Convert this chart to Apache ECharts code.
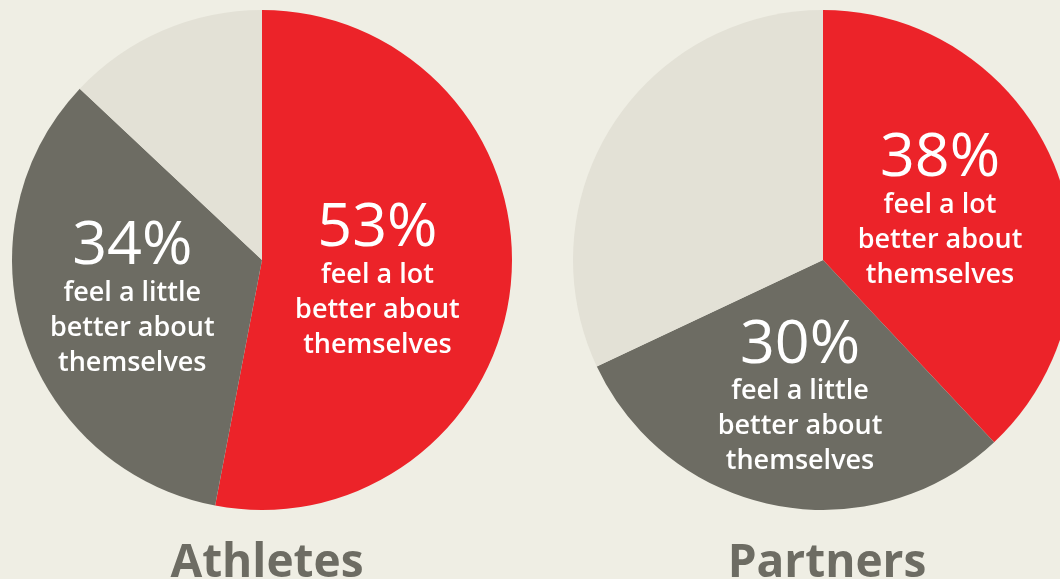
<!DOCTYPE html>
<html>
<head>
<meta charset="utf-8">
<script src="https://cdn.jsdelivr.net/npm/echarts@6/dist/echarts.min.js"></script>
<style>
html,body{margin:0;padding:0;background:#efeee4;}
#c{width:1060px;height:579px;}
</style>
</head>
<body>
<div id="c"></div>
<script>
// Data
const groups = ['Athletes', 'Partners'];
const categories = ['feel a lot better about themselves', 'feel a little better about themselves', 'other'];
const athletesValues = [53, 34, 13];
const partnersValues = [38, 30, 32];
const labelLines = {
  'feel a lot better about themselves': ['feel a lot', 'better about', 'themselves'],
  'feel a little better about themselves': ['feel a little', 'better about', 'themselves']
};

const colors = ['#ec2329', '#6d6c63', '#e3e1d6'];
const FONT = '"Open Sans", "Noto Sans", sans-serif';
// label nudges [series][dataIndex] = [dx, dy]
const nudges = [[[-12, 9], [-8, 0]], [[-2, -2], [1, 12]]];

function makeData(values) {
  return values.map((v, i) => ({
    name: categories[i],
    value: v,
    itemStyle: { color: colors[i] },
    label: { show: i < 2 }
  }));
}

const labelCfg = {
  show: true,
  position: 'inside',
  color: '#fff',
  formatter: p => {
    const lines = labelLines[p.name] || [];
    return '{a|' + p.value + '%}\n' + lines.map(l => '{b|' + l + '}').join('\n');
  },
  rich: {
    a: { fontFamily: FONT, fontSize: 61, fontWeight: 'normal', color: '#fff', lineHeight: 58, align: 'center' },
    b: { fontFamily: FONT, fontSize: 27, fontWeight: 600, color: '#fff', lineHeight: 35, align: 'center' }
  }
};

function layoutFor(si) {
  return p => {
    const n = (nudges[si] && nudges[si][p.dataIndex]) || [0, 0];
    return { dx: n[0], dy: n[1] };
  };
}

const chart = echarts.init(document.getElementById('c'));
chart.setOption({
  backgroundColor: '#efeee4',
  animation: false,
  title: [
    { text: groups[0], left: 262, top: 536, textAlign: 'center',
      textStyle: { fontFamily: FONT, fontSize: 46, fontWeight: 'bold', color: '#6d6c63' } },
    { text: groups[1], left: 822, top: 536, textAlign: 'center',
      textStyle: { fontFamily: FONT, fontSize: 46, fontWeight: 'bold', color: '#6d6c63' } }
  ],
  series: [
    {
      type: 'pie', center: [262, 260], radius: [0, 250], startAngle: 90, clockwise: true,
      itemStyle: { borderWidth: 0 }, emphasis: { disabled: true },
      label: labelCfg, labelLine: { show: false }, labelLayout: layoutFor(0),
      data: makeData(athletesValues)
    },
    {
      type: 'pie', center: [823, 260], radius: [0, 250], startAngle: 90, clockwise: true,
      itemStyle: { borderWidth: 0 }, emphasis: { disabled: true },
      label: labelCfg, labelLine: { show: false }, labelLayout: layoutFor(1),
      data: makeData(partnersValues)
    }
  ]
});
</script>
</body>
</html>
